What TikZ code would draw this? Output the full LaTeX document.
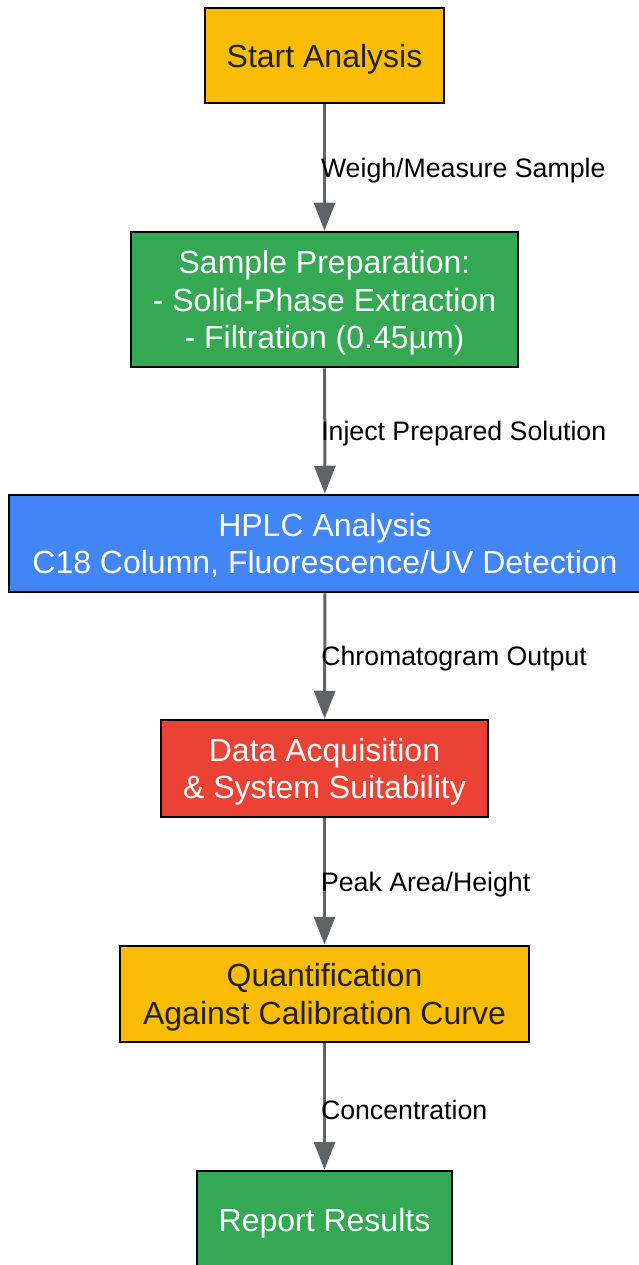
\documentclass[tikz,border=0pt]{standalone}
\usepackage{fontspec}
\setmainfont{Liberation Sans}
\usetikzlibrary{arrows.meta}
\definecolor{gyellow}{HTML}{FBBC05}
\definecolor{ggreen}{HTML}{34A853}
\definecolor{gblue}{HTML}{4285F4}
\definecolor{gred}{HTML}{EA4335}
\definecolor{gdark}{HTML}{202124}
\definecolor{ggray}{HTML}{5F6368}
\newcommand{\boxtext}[1]{\raisebox{-4pt}[\height][\depth]{\begin{tabular}{@{}c@{}}#1\end{tabular}}}
\begin{document}
\begin{tikzpicture}[x=1pt,y=-1pt,
  stepbox/.style={draw=black, line width=2.5pt, inner sep=0pt, align=center,
    font=\fontsize{32}{37.8}\selectfont},
  darktext/.style={stepbox, fill=gyellow, text=gdark},
  lighttext/.style={stepbox, text=white},
  flow/.style={draw=ggray, line width=3pt, -{Triangle[length=28pt,width=21pt]}},
  lbl/.style={anchor=west, inner sep=0pt, xshift=-5pt, yshift=-3pt, text=black,
    font=\fontsize{26.7}{31}\selectfont}
]
\useasboundingbox (0,0) rectangle (638,1265);
\node[darktext, minimum width=239pt, minimum height=95pt] (start) at (324.5,55.5) {\boxtext{Start Analysis}};
\node[lighttext, fill=ggreen, minimum width=387pt, minimum height=135pt] (prep) at (324.5,299.5) {\boxtext{Sample Preparation:\\- Solid-Phase Extraction\\- Filtration (0.45µm)}};
\node[lighttext, fill=gblue, minimum width=632pt, minimum height=97pt] (hplc) at (325,543.5) {\boxtext{HPLC Analysis\\C18 Column, Fluorescence/UV Detection}};
\node[lighttext, fill=gred, minimum width=327pt, minimum height=97pt] (data) at (324.5,768.5) {\boxtext{Data Acquisition\\\& System Suitability}};
\node[darktext, minimum width=409pt, minimum height=96pt] (quant) at (324.5,994) {\boxtext{Quantification\\Against Calibration Curve}};
\node[lighttext, fill=ggreen, minimum width=255pt, minimum height=98pt] (report) at (324.5,1220) {\boxtext{Report Results}};
\draw[flow] (start) -- node[lbl] {Weigh/Measure Sample} (prep);
\draw[flow] (prep) -- node[lbl] {Inject Prepared Solution} (hplc);
\draw[flow] (hplc) -- node[lbl] {Chromatogram Output} (data);
\draw[flow] (data) -- node[lbl] {Peak Area/Height} (quant);
\draw[flow] (quant) -- node[lbl] {Concentration} (report);
\end{tikzpicture}
\end{document}
